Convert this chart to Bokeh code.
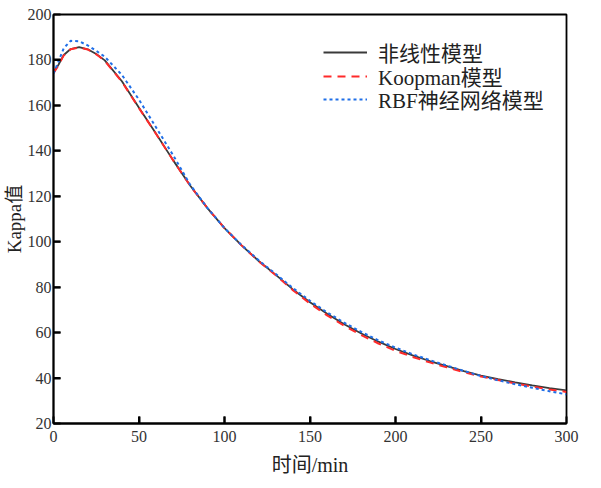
import math
from bokeh.plotting import figure
from bokeh.models import Legend, LegendItem, FixedTicker
from bokeh.embed import file_html
from bokeh.resources import INLINE

# time axis (min)
t = [0, 3, 6, 10, 15, 20, 25, 30, 40, 50, 60, 70, 80, 90, 100, 110, 120, 130, 140,
     150, 160, 170, 180, 190, 200, 210, 220, 230, 240, 250, 260, 270, 280, 290, 300]

# 非线性模型
nonlinear = [174.5, 178.0, 182.2, 184.8, 185.6, 184.7, 182.6, 179.8, 170.6, 159.0, 147.5,
             135.8, 124.6, 114.8, 106.0, 98.4, 91.5, 85.4, 79.0,
             73.4, 68.3, 63.7, 59.6, 56.0, 52.8, 50.0, 47.5, 45.3, 43.1, 41.1,
             39.5, 38.1, 36.8, 35.6, 34.6]

# Koopman模型
koopman = [174.2, 177.8, 182.0, 184.7, 185.5, 184.6, 182.5, 179.6, 170.4, 158.8, 147.4,
           135.8, 124.6, 114.8, 106.0, 98.4, 91.4, 85.2, 78.7,
           72.8, 67.6, 63.0, 58.9, 55.2, 52.0, 49.3, 46.9, 44.7, 42.6, 40.7,
           39.1, 37.6, 36.2, 35.0, 33.9]

# RBF神经网络模型
rbf = [174.0, 179.5, 185.2, 188.4, 188.2, 186.4, 184.0, 181.4, 173.4, 162.5, 150.3,
       138.0, 125.0, 114.9, 106.0, 98.5, 91.8, 85.8, 79.6,
       74.0, 68.9, 64.4, 60.3, 56.6, 53.4, 50.5, 47.9, 45.5, 43.1, 40.9,
       39.0, 37.3, 35.7, 34.2, 32.8]

x_ticks = [0, 50, 100, 150, 200, 250, 300]
y_ticks = [20, 40, 60, 80, 100, 120, 140, 160, 180, 200]

labels = ["非线性模型", "Koopman模型", "RBF神经网络模型"]

SERIF = "Liberation Serif, Times New Roman, Noto Sans CJK SC"

p = figure(width=585, height=478, x_range=(0, 300), y_range=(20, 200),
           output_backend="svg", toolbar_location=None,
           min_border_left=40, min_border_right=19, min_border_top=14, min_border_bottom=46)

p.xgrid.visible = False
p.ygrid.visible = False
p.outline_line_color = "black"
p.outline_line_width = 1.8
p.background_fill_color = "white"
p.border_fill_color = "white"

r1 = p.line(t, nonlinear, line_color="#3a3a3a", line_width=1.8)
r2 = p.line(t, koopman, line_color="#ff2a2a", line_width=2.0, line_dash="8 6")
r3 = p.line(t, rbf, line_color="#1f6fe8", line_width=2.0, line_dash="3 3")

# inward tick marks (screen-length rays from the axes)
p.ray(x=x_ticks[1:-1], y=[y_ticks[0]] * (len(x_ticks) - 2), length=7,
      angle=math.pi / 2, length_units="screen", line_color="black", line_width=2)
p.ray(x=[x_ticks[0]] * (len(y_ticks) - 2), y=y_ticks[1:-1], length=7,
      angle=0, length_units="screen", line_color="black", line_width=2)

for ax in (p.xaxis[0], p.yaxis[0]):
    ax.major_tick_in = 7
    ax.major_tick_out = 0
    ax.minor_tick_in = 0
    ax.minor_tick_out = 0
    ax.axis_line_width = 1.8
    ax.axis_line_color = "black"
    ax.major_tick_line_width = 2
    ax.major_tick_line_color = "black"
    ax.major_label_text_font = SERIF
    ax.major_label_text_font_size = "16px"
    ax.major_label_text_color = "#333333"
    ax.axis_label_text_font = SERIF
    ax.axis_label_text_font_style = "normal"
    ax.axis_label_text_color = "#222222"

p.xaxis.axis_label_text_font_size = "20px"
p.yaxis.axis_label_text_font_size = "19px"
p.xaxis.ticker = FixedTicker(ticks=x_ticks)
p.yaxis.ticker = FixedTicker(ticks=y_ticks)
p.xaxis.axis_label = "时间/min"
p.yaxis.axis_label = "Kappa值"
p.xaxis.major_label_standoff = 7
p.yaxis.major_label_standoff = 2
p.xaxis.axis_label_standoff = 9
p.yaxis.axis_label_standoff = 0

# one legend per entry, so the row spacing can match the reference
for lab, rend, ypos in zip(labels, [r1, r2, r3], [356, 332, 309]):
    lg = Legend(items=[LegendItem(label=lab, renderers=[rend])], location=(270, ypos))
    lg.background_fill_alpha = 0
    lg.border_line_alpha = 0
    lg.padding = 0
    lg.margin = 0
    lg.spacing = 0
    lg.glyph_width = 44
    lg.glyph_height = 24
    lg.label_height = 24
    lg.label_standoff = 11
    lg.label_text_font = SERIF
    lg.label_text_font_size = "21px"
    lg.label_text_color = "#222222"
    p.add_layout(lg, "center")

open("out.html", "w").write(file_html(p, INLINE))
